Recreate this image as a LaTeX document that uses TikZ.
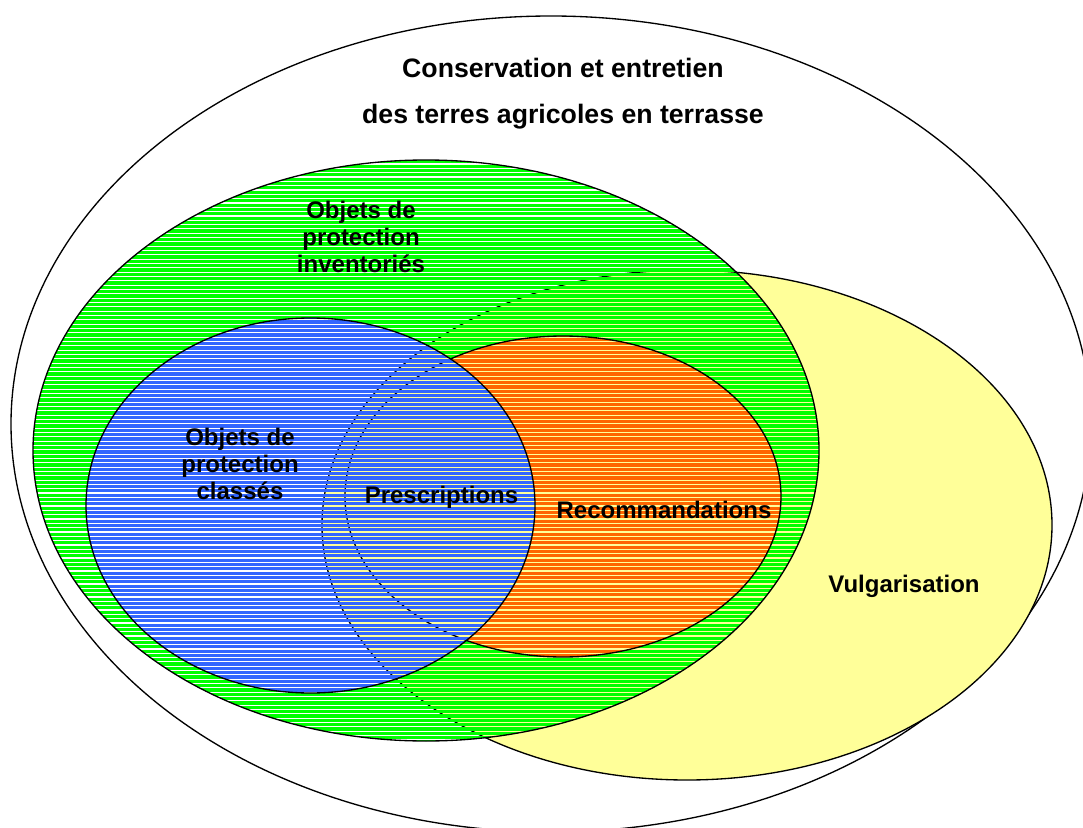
\documentclass[tikz,border=0pt]{standalone}
\usepackage{fontspec}
\setmainfont{Liberation Sans}
\usepackage{tikz}
\definecolor{vert}{HTML}{00FF00}
\definecolor{bleu}{HTML}{3366FF}
\definecolor{orange}{HTML}{FF6600}
\definecolor{jaune}{HTML}{FFFF99}
\tikzset{
  zone/.style={draw=black, line width=1pt},
  titre/.style={font=\bfseries\fontsize{20}{34.5}\selectfont, align=center, inner sep=0pt},
  etiq/.style={font=\bfseries\fontsize{18}{20.25}\selectfont, align=center, inner sep=0pt}
}
% ellipse rayee : #1 couleur, #2 centre, #3 rayon x, #4 rayon y
\newcommand{\rayee}[4]{%
	\begin{scope}
		\clip #2 ellipse [x radius=#3, y radius=#4];
		\foreach \k in {0,...,191}
			\fill[#1] (0,4.33*\k) rectangle (1083,4.33*\k+3.2);
	\end{scope}
	\draw[zone] #2 ellipse [x radius=#3, y radius=#4];}
\begin{document}
\begin{tikzpicture}[x=0.75pt, y=-0.75pt]
	\useasboundingbox (0,0) rectangle (1083,828);
	\fill[white] (0,0) rectangle (1083,828);
	\clip (0,0) rectangle (1083,828);
	% ensembles
	\draw[zone] (551,424) ellipse [x radius=540, y radius=408];
	\draw[zone, fill=jaune] (687,525) ellipse [x radius=365, y radius=255];
	\rayee{vert}{(426,450.5)}{393}{290.5}
	\rayee{orange}{(563,496.5)}{218}{160.5}
	\rayee{bleu}{(310.5,505.5)}{224.5}{187.5}
	% textes
	\node[titre] (conservation) at (563,93.5) {Conservation et entretien\\des terres agricoles en terrasse};
	\node[etiq] (inventories) at (361,237) {Objets de\\protection\\inventoriés};
	\node[etiq] (classes) at (240,464) {Objets de\\protection\\classés};
	\node[etiq, anchor=base] (prescriptions) at (441.5,503) {Prescriptions};
	\node[etiq, anchor=base] (recommandations) at (664,518) {Recommandations};
	\node[etiq, anchor=base] (vulgarisation) at (904,592) {Vulgarisation};
\end{tikzpicture}
\end{document}
